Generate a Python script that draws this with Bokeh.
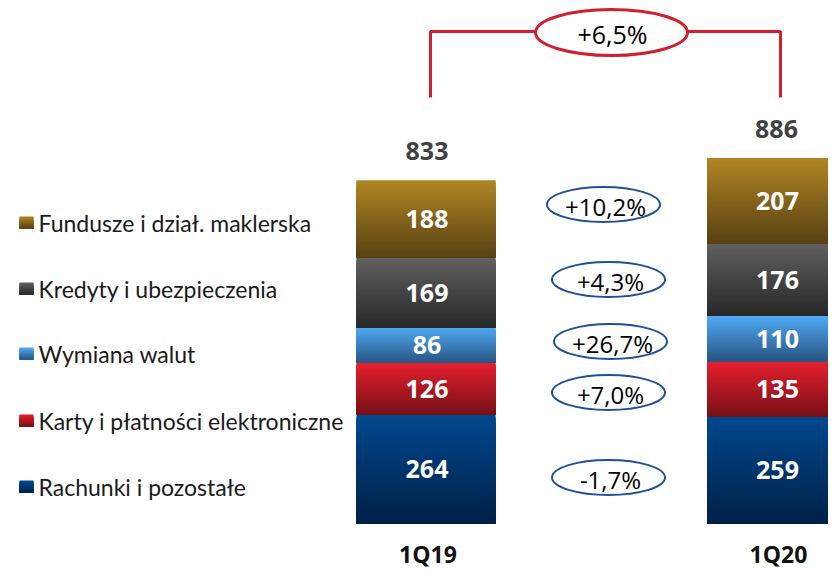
from bokeh.plotting import figure
from bokeh.models import Range1d, ColumnDataSource
from bokeh.core.properties import value
from bokeh.embed import file_html
from bokeh.resources import INLINE

# ---- data ----
categories = ["1Q19", "1Q20"]
series = ["Rachunki i pozostałe", "Karty i płatności elektroniczne", "Wymiana walut",
          "Kredyty i ubezpieczenia", "Fundusze i dział. maklerska"]
values_1q19 = [264, 126, 86, 169, 188]
values_1q20 = [259, 135, 110, 176, 207]
totals = [833, 886]
changes = ["-1,7%", "+7,0%", "+26,7%", "+4,3%", "+10,2%"]
total_change = "+6,5%"

# ---- style ----
grad_top = [(0, 72, 142), (230, 32, 46), (80, 170, 245), (96, 96, 96), (176, 134, 36)]
grad_bot = [(0, 32, 72), (118, 16, 24), (40, 85, 130), (40, 40, 40), (88, 64, 18)]

W, H = 828, 572
K = 0.412          # pixels per unit
BASE = 523         # picture y of zero


def Y(py):
    return (BASE - py) / K


p = figure(width=W, height=H, output_backend="svg", toolbar_location=None,
           x_range=Range1d(0, W), y_range=Range1d(Y(H), Y(0)),
           x_axis_location=None, y_axis_location=None,
           min_border=0, outline_line_color=None)
p.grid.visible = False
p.background_fill_color = "white"
p.border_fill_color = "white"

bar_x = [425.5, 776]
bar_w = 139
N = 60


def lerp(a, b, t):
    return tuple(int(round(a[i] + (b[i] - a[i]) * t)) for i in range(3))


def hexc(c):
    return "#%02x%02x%02x" % c


qs = dict(left=[], right=[], top=[], bottom=[], color=[])
lab = dict(x=[], y=[], t=[])
for bi, vals in enumerate([values_1q19, values_1q20]):
    cum = 0
    for si, v in enumerate(vals):
        b, t = cum, cum + v
        for k in range(N):
            s_top = t - (t - b) * k / N
            qs["left"].append(bar_x[bi] - bar_w / 2)
            qs["right"].append(bar_x[bi] + bar_w / 2)
            qs["top"].append(s_top)
            qs["bottom"].append(b)
            qs["color"].append(hexc(lerp(grad_top[si], grad_bot[si], (k + 0.5) / N)))
        lab["x"].append(bar_x[bi] + 1)
        lab["y"].append((b + t) / 2)
        lab["t"].append(str(v))
        cum = t

p.quad(source=ColumnDataSource(qs), left="left", right="right", top="top", bottom="bottom",
       fill_color="color", line_color=None)

p.text(source=ColumnDataSource(lab), x="x", y="y", text="t", text_color="white",
       text_font=value("Open Sans"), text_font_size="25px", text_font_style="bold",
       text_align="center", text_baseline="middle")

# totals
p.text(x=[bar_x[0] + 1, bar_x[1]], y=[totals[0] + 29 / K, totals[1] + 29 / K],
       text=[str(t) for t in totals], text_color="#404040",
       text_font=value("Open Sans"), text_font_size="25px", text_font_style="bold",
       text_align="center", text_baseline="middle")

# categories
p.text(x=[bar_x[0] + 2, bar_x[1] + 2], y=[Y(553)] * 2, text=categories, text_color="#111111",
       text_font=value("Open Sans"), text_font_size="23px", text_font_style="bold",
       text_align="center", text_baseline="middle")

# legend
leg_y = [486, 420, 353, 288, 222]
lq = dict(left=[], right=[], top=[], bottom=[], color=[])
for si in range(5):
    cy = leg_y[si]
    M = 12
    for k in range(M):
        lq["left"].append(19)
        lq["right"].append(33)
        lq["top"].append(Y(cy - 6 + 12 * k / M))
        lq["bottom"].append(Y(cy + 6))
        lq["color"].append(hexc(lerp(grad_top[si], grad_bot[si], (k + 0.5) / M)))
p.quad(source=ColumnDataSource(lq), left="left", right="right", top="top", bottom="bottom",
       fill_color="color", line_color=None)
p.text(x=[38] * 5, y=[Y(v) for v in leg_y], text=series, text_color="#1a1a1a",
       text_font=value("Lato"), text_font_size="23px",
       text_align="left", text_baseline="middle")

# change ellipses
ell_x = [608, 608, 610, 608, 603]
ell_y = [477, 392, 341, 279, 204]
p.ellipse(x=ell_x, y=[Y(v) for v in ell_y], width=113, height=35,
          width_units="screen", height_units="screen",
          fill_color="white", line_color="#1f4f9c", line_width=2)
p.text(x=[x + 2 for x in ell_x], y=[Y(v + 2) for v in ell_y], text=changes, text_color="#000000",
       text_font=value("Open Sans"), text_font_size="24px",
       text_align="center", text_baseline="middle")

# top bracket
red = "#d0202e"
p.line(x=[430, 430, 780, 780], y=[Y(97), Y(31), Y(31), Y(97)], line_color=red, line_width=3)
p.ellipse(x=[611], y=[Y(32)], width=152, height=46, width_units="screen", height_units="screen",
          fill_color="white", line_color=red, line_width=3)
p.text(x=[612], y=[Y(33)], text=[total_change], text_color="#000000",
       text_font=value("Open Sans"), text_font_size="25px",
       text_align="center", text_baseline="middle")

open("out.html", "w").write(file_html(p, INLINE))
